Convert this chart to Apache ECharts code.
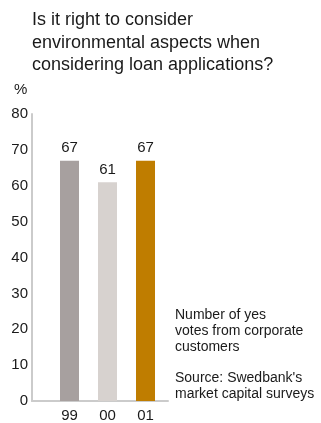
<!DOCTYPE html>
<html><head><meta charset="utf-8">
<script src="https://cdn.jsdelivr.net/npm/echarts@6/dist/echarts.min.js"></script>
<style>html,body{margin:0;padding:0;background:#fff}#c{width:321px;height:423px}</style>
</head><body><div id="c"></div>
<script>
const categories = ['99', '00', '01'];
const values = [67, 61, 67];
const barColors = ['#a7a09f', '#d7d2cf', '#bf7d00'];
const yTicks = [0, 10, 20, 30, 40, 50, 60, 70, 80];
const titleText = 'Is it right to consider\nenvironmental aspects when\nconsidering loan applications?';
const noteText = 'Number of yes\nvotes from corporate\ncustomers';
const sourceText = "Source: Swedbank's\nmarket capital surveys";
const unitText = '%';

const chart = echarts.init(document.getElementById('c'), null, {renderer: 'canvas'});
const font = 'Liberation Sans, Arial, sans-serif';
const txt = (size, lh) => ({fontFamily: font, fontSize: size, fontWeight: 'normal', color: '#1a1a1a', lineHeight: lh});
chart.setOption({
  animation: false,
  backgroundColor: '#fff',
  title: [
    {text: titleText, left: 32, top: 9, padding: 0, textStyle: txt(18, 22.5)},
    {text: unitText, left: 14, top: 82, padding: 0, textStyle: txt(15, 16)},
    {text: noteText, left: 175, top: 307, padding: 0, textStyle: txt(14, 16)},
    {text: sourceText, left: 175, top: 370, padding: 0, textStyle: txt(14, 16)}
  ],
  grid: {left: 32, top: 114, width: 136, height: 290, containLabel: false},
  xAxis: {
    type: 'value', min: -0.987, max: 2.592,
    splitLine: {show: false},
    axisLine: {show: true, lineStyle: {color: '#cbcbcb', width: 2}},
    axisTick: {show: false},
    axisLabel: {customValues: [0, 1, 2], formatter: v => categories[Math.round(v)] || '', fontFamily: font, fontSize: 15, color: '#1a1a1a', margin: 7}
  },
  yAxis: {
    type: 'value', min: 0, max: 80, interval: 10,
    splitLine: {show: false},
    axisLine: {show: true, onZero: false, lineStyle: {color: '#cbcbcb', width: 2}},
    axisTick: {show: false},
    axisLabel: {fontFamily: font, fontSize: 15, color: '#1a1a1a', margin: 4, formatter: v => yTicks.includes(v) ? String(v) : ''}
  },
  series: [{
    type: 'bar',
    barWidth: 19,
    data: values.map((v, i) => ({value: [i, v], itemStyle: {color: barColors[i]}})),
    label: {show: true, position: 'top', distance: 5, fontFamily: font, fontSize: 15, color: '#1a1a1a', formatter: p => String(p.value[1])}
  }]
});
</script></body></html>
